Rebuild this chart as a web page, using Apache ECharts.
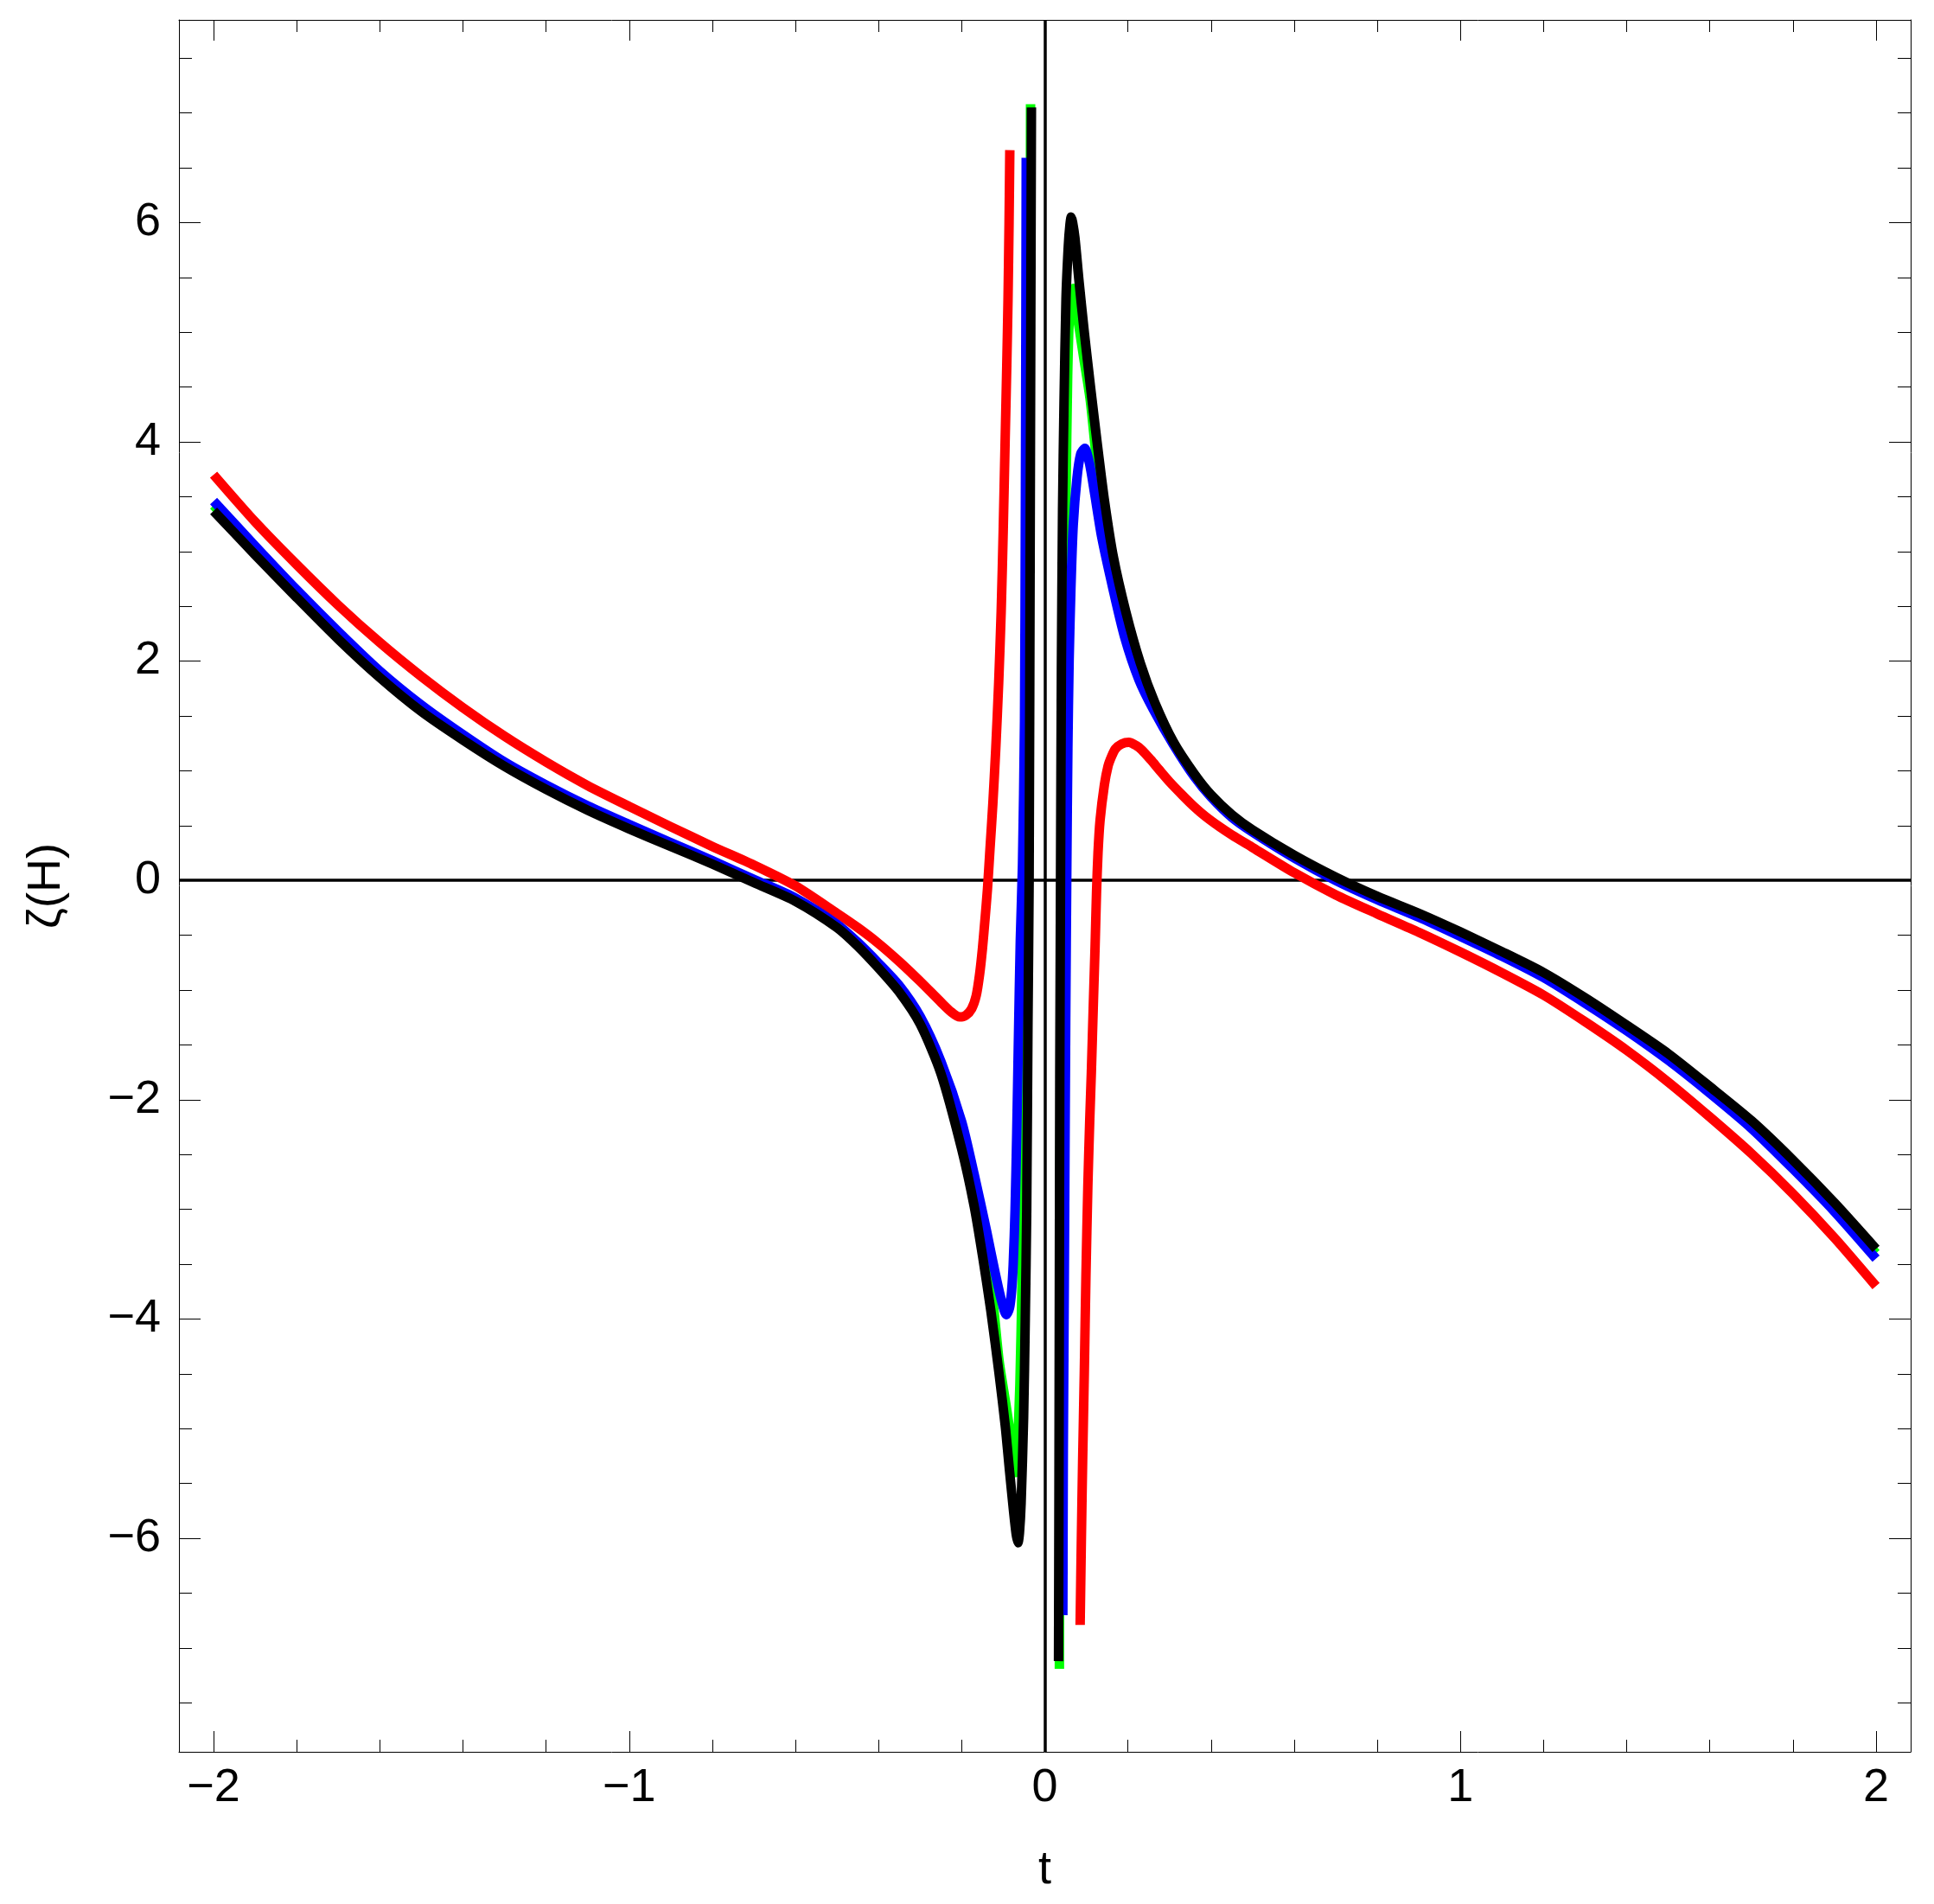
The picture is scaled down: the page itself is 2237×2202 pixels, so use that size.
<!DOCTYPE html>
<html><head><meta charset="utf-8">
<script src="https://cdn.jsdelivr.net/npm/echarts@6/dist/echarts.min.js"></script>
<style>html,body{margin:0;padding:0;background:#fff}#c{width:2237px;height:2202px}</style>
</head><body><div id="c"></div>
<script>
// ---- tick positions / labels ----
const xMajorTicks = [-2, -1, 0, 1, 2];
const xMinorTicks = [-1.8, -1.6, -1.4, -1.2, -0.8, -0.6, -0.4, -0.2, 0.2, 0.4, 0.6, 0.8, 1.2, 1.4, 1.6, 1.8];
const yMajorTicks = [-6, -4, -2, 0, 2, 4, 6];
const yMinorTicks = [-7.5, -7, -6.5, -5.5, -5, -4.5, -3.5, -3, -2.5, -1.5, -1, -0.5, 0.5, 1, 1.5, 2.5, 3, 3.5, 4.5, 5, 5.5, 6.5, 7, 7.5];
const xRange = [-2.0833, 2.0833];
const yRange = [-7.947, 7.848];

// ---- series values [t, zeta] ----
const redLeft = [[-2.0,3.70],[-1.9,3.27],[-1.8,2.88],[-1.7,2.51],[-1.6,2.17],[-1.5,1.86],[-1.4,1.575],[-1.3,1.315],[-1.2,1.08],[-1.1,0.865],[-1.0,0.675],[-0.9,0.49],[-0.8,0.31],[-0.7,0.14],[-0.6,-0.05],[-0.5,-0.30],[-0.45,-0.43],[-0.4,-0.575],[-0.35,-0.74],[-0.3,-0.92],[-0.25,-1.11],[-0.225,-1.20],[-0.205,-1.245],[-0.19,-1.23],[-0.176,-1.17],[-0.165,-1.05],[-0.157,-0.86],[-0.150,-0.62],[-0.144,-0.36],[-0.138,-0.08],[-0.132,0.28],[-0.125,0.70],[-0.118,1.2],[-0.111,1.8],[-0.105,2.45],[-0.100,3.2],[-0.0955,4.0],[-0.0915,4.7],[-0.0885,5.3],[-0.086,6.0],[-0.0842,6.66]];
const redRight = [[0.085,-6.79],[0.088,-6.0],[0.091,-5.3],[0.095,-4.5],[0.099,-3.6],[0.1035,-2.8],[0.108,-2.2],[0.112,-1.75],[0.117,-1.1],[0.121,-0.6],[0.1245,-0.1],[0.128,0.25],[0.133,0.55],[0.1433,0.87],[0.152,1.04],[0.1606,1.13],[0.17,1.20],[0.185,1.245],[0.2022,1.26],[0.22,1.23],[0.2334,1.19],[0.255,1.10],[0.275,1.01],[0.30,0.90],[0.3305,0.78],[0.36,0.67],[0.386,0.585],[0.42,0.49],[0.45,0.415],[0.5,0.30],[0.6,0.07],[0.7,-0.132],[0.8,-0.305],[0.9,-0.473],[1.0,-0.653],[1.1,-0.843],[1.2,-1.046],[1.3,-1.289],[1.4,-1.549],[1.5,-1.839],[1.6,-2.157],[1.7,-2.49],[1.8,-2.857],[1.9,-3.26],[2.0,-3.70]];

const greenLeft = [[-2.0,3.42],[-1.9,3.01],[-1.8,2.62],[-1.7,2.24],[-1.6,1.885],[-1.5,1.57],[-1.4,1.305],[-1.3,1.06],[-1.2,0.85],[-1.1,0.66],[-1.0,0.49],[-0.9,0.33],[-0.8,0.165],[-0.7,-0.005],[-0.6,-0.175],[-0.5,-0.415],[-0.45,-0.585],[-0.4,-0.78],[-0.35,-0.995],[-0.3,-1.28],[-0.25,-1.71],[-0.2,-2.36],[-0.165,-2.87],[-0.143,-3.34],[-0.125,-3.83],[-0.11,-4.38],[-0.0935,-4.78],[-0.078,-5.18],[-0.0703,-5.40],[-0.066,-5.2],[-0.060,-4.6],[-0.055,-3.7],[-0.051,-2.5],[-0.047,-1.0],[-0.0433,0.15],[-0.041,1.45],[-0.0378,2.90],[-0.035,5.79],[-0.0343,7.08]];
const greenRight = [[0.0351,-7.19],[0.0362,-4.5],[0.0375,-2.0],[0.040,0],[0.043,1.2],[0.047,2.3],[0.051,3.5],[0.055,4.6],[0.060,5.2],[0.069,5.40],[0.0774,5.17],[0.0935,4.77],[0.1093,4.38],[0.125,3.82],[0.143,3.35],[0.165,2.86],[0.195,2.38],[0.23,1.94],[0.265,1.60],[0.31,1.25],[0.36,0.965],[0.40,0.775],[0.45,0.59],[0.5,0.45],[0.6,0.215],[0.7,0.015],[0.8,-0.16],[0.9,-0.318],[1.0,-0.49],[1.1,-0.67],[1.2,-0.862],[1.3,-1.095],[1.4,-1.345],[1.5,-1.61],[1.6,-1.91],[1.7,-2.225],[1.8,-2.59],[1.9,-2.98],[2.0,-3.40]];

const blueLeft = [[-2.0,3.46],[-1.9,3.05],[-1.8,2.65],[-1.7,2.27],[-1.6,1.91],[-1.5,1.60],[-1.4,1.33],[-1.3,1.08],[-1.2,0.87],[-1.1,0.68],[-1.0,0.51],[-0.9,0.345],[-0.8,0.18],[-0.7,0.01],[-0.6,-0.16],[-0.5,-0.40],[-0.45,-0.565],[-0.4,-0.755],[-0.35,-0.96],[-0.3,-1.24],[-0.25,-1.65],[-0.2,-2.20],[-0.17,-2.68],[-0.14,-3.20],[-0.12,-3.57],[-0.105,-3.82],[-0.0925,-3.96],[-0.085,-3.90],[-0.08,-3.75],[-0.076,-3.5],[-0.0715,-3.0],[-0.0675,-2.3],[-0.0635,-1.45],[-0.059,-0.55],[-0.0537,0.145],[-0.0488,1.45],[-0.0468,3.38],[-0.0454,5.31],[-0.0447,6.59]];
const blueRight = [[0.0434,-6.70],[0.0445,-5.2],[0.0468,-3.72],[0.0503,-1.30],[0.053,0.145],[0.0555,1.2],[0.0585,2.0],[0.0628,2.66],[0.0684,3.24],[0.0774,3.67],[0.0864,3.89],[0.0961,3.94],[0.1072,3.81],[0.119,3.55],[0.137,3.13],[0.164,2.66],[0.192,2.22],[0.2265,1.83],[0.261,1.56],[0.31,1.235],[0.36,0.945],[0.40,0.76],[0.45,0.575],[0.5,0.44],[0.6,0.205],[0.7,0.0],[0.8,-0.175],[0.9,-0.335],[1.0,-0.51],[1.1,-0.69],[1.2,-0.885],[1.3,-1.12],[1.4,-1.37],[1.5,-1.64],[1.6,-1.94],[1.7,-2.26],[1.8,-2.63],[1.9,-3.02],[2.0,-3.45]];

const blackLeft = [[-2.0,3.37],[-1.9,2.97],[-1.8,2.58],[-1.7,2.20],[-1.6,1.85],[-1.5,1.54],[-1.4,1.28],[-1.3,1.04],[-1.2,0.83],[-1.1,0.64],[-1.0,0.47],[-0.9,0.31],[-0.8,0.15],[-0.7,-0.02],[-0.6,-0.19],[-0.5,-0.43],[-0.45,-0.60],[-0.4,-0.80],[-0.35,-1.02],[-0.3,-1.31],[-0.25,-1.76],[-0.2,-2.45],[-0.17,-2.97],[-0.15,-3.42],[-0.13,-3.92],[-0.11,-4.50],[-0.095,-4.98],[-0.085,-5.38],[-0.075,-5.76],[-0.069,-5.96],[-0.0645,-6.04],[-0.061,-5.95],[-0.057,-5.68],[-0.051,-4.9],[-0.047,-4.0],[-0.0435,-3.0],[-0.0405,-1.3],[-0.0377,0],[-0.035,3.38],[-0.0322,7.05]];
const blackRight = [[0.033,-7.12],[0.034,-5.6],[0.035,-3.7],[0.036,-1.8],[0.0378,0],[0.0399,1.93],[0.0427,3.38],[0.0462,4.35],[0.051,5.31],[0.0566,5.79],[0.0605,5.98],[0.0635,6.05],[0.067,6.0],[0.0725,5.86],[0.0822,5.47],[0.095,5.0],[0.11,4.5],[0.125,4.02],[0.143,3.48],[0.165,2.95],[0.195,2.45],[0.23,1.98],[0.265,1.62],[0.31,1.26],[0.36,0.97],[0.40,0.78],[0.45,0.60],[0.5,0.46],[0.6,0.23],[0.7,0.03],[0.8,-0.145],[0.9,-0.30],[1.0,-0.47],[1.1,-0.65],[1.2,-0.84],[1.3,-1.07],[1.4,-1.32],[1.5,-1.58],[1.6,-1.88],[1.7,-2.19],[1.8,-2.55],[1.9,-2.94],[2.0,-3.36]];

const FONT = 'Liberation Sans, Arial, sans-serif';
const FS = 54;
const minus = v => String(v).replace('-', '\u2212');
const joined = (a, b) => a.concat([[0, '-']], b);

function axisBase(kind, pos, ticks, len, showLine) {
  return {
    type: 'value', position: pos, gridIndex: 0,
    min: kind === 'x' ? xRange[0] : yRange[0],
    max: kind === 'x' ? xRange[1] : yRange[1],
    axisLine: { show: showLine, onZero: false, lineStyle: { color: '#000', width: 1 } },
    axisTick: { show: true, inside: true, length: len, customValues: ticks, lineStyle: { color: '#000', width: 1 } },
    axisLabel: { show: false },
    splitLine: { show: false }
  };
}

const lineSeries = (name, color, data, extra) => Object.assign({
  name, type: 'line', data, xAxisIndex: 0, yAxisIndex: 0,
  showSymbol: false, symbol: 'none', smooth: 0.25, connectNulls: false,
  lineStyle: { color, width: 11, cap: 'butt', join: 'round' },
  itemStyle: { color }, emphasis: { disabled: true }, silent: true, z: 3
}, extra || {});

const xMain = axisBase('x', 'bottom', xMajorTicks, 24, true);
xMain.axisLabel = { show: true, customValues: xMajorTicks, margin: 15, fontSize: FS, fontFamily: FONT, color: '#000', formatter: minus };
xMain.name = 't'; xMain.nameLocation = 'middle'; xMain.nameGap = 110;
xMain.nameTextStyle = { fontSize: FS, fontFamily: FONT, color: '#000' };

const yMain = axisBase('y', 'left', yMajorTicks, 25, true);
yMain.axisLabel = { show: true, customValues: yMajorTicks, margin: 21, fontSize: FS, fontFamily: FONT, color: '#000', formatter: minus };
yMain.name = '\u03B6(H)'; yMain.nameLocation = 'middle'; yMain.nameGap = 126;
yMain.nameTextStyle = { fontSize: FS, fontFamily: FONT, color: '#000' };

const chart = echarts.init(document.getElementById('c'), null, { renderer: 'canvas' });
chart.setOption({
  animation: false,
  backgroundColor: '#fff',
  grid: { left: 207, top: 23, right: 27, bottom: 176, containLabel: false },
  xAxis: [
    xMain,
    axisBase('x', 'bottom', xMinorTicks, 14, false),
    axisBase('x', 'top', xMajorTicks, 24, true),
    axisBase('x', 'top', xMinorTicks, 14, false)
  ],
  yAxis: [
    yMain,
    axisBase('y', 'left', yMinorTicks, 15, false),
    axisBase('y', 'right', yMajorTicks, 25, true),
    axisBase('y', 'right', yMinorTicks, 15, false)
  ],
  series: [
    lineSeries('red', '#ff0000', joined(redLeft, redRight), {
      markLine: {
        silent: true, symbol: ['none', 'none'], z: 1,
        label: { show: false },
        lineStyle: { color: '#000', width: 3.5, type: 'solid' },
        emphasis: { disabled: true },
        data: [{ xAxis: 0 }, { yAxis: 0 }]
      }
    }),
    lineSeries('green', '#00ff00', joined(greenLeft, greenRight)),
    lineSeries('blue', '#0000ff', joined(blueLeft, blueRight)),
    lineSeries('black', '#000000', joined(blackLeft, blackRight))
  ]
});
</script>
</body></html>
